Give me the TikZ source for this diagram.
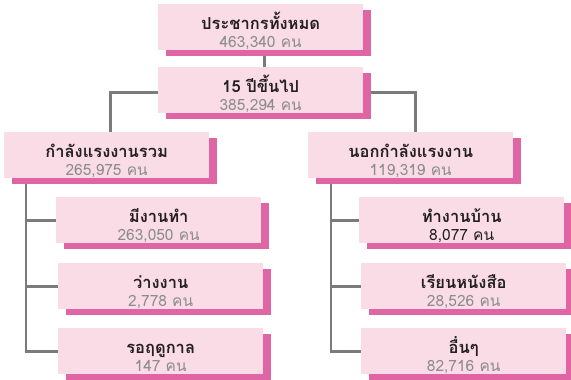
\documentclass[tikz,border=0pt]{standalone}
\usepackage{fontspec}
\newfontfamily\thaifont[Script=Thai]{Loma}
\usetikzlibrary{shadows,backgrounds}
\definecolor{boxpink}{HTML}{FADCE6}
\definecolor{shpink}{HTML}{E065A5}
\definecolor{numgray}{HTML}{8C8C8C}
\definecolor{titlecol}{HTML}{231F20}
\definecolor{linegray}{HTML}{7B7B7B}
\newcommand{\bx}[3][numgray]{\rule{0pt}{25pt}\smash{\fontsize{16.5}{18}\selectfont\bfseries\color{titlecol}#2}\\
  \smash{\fontsize{15.5}{18}\selectfont\color{#1}#3}\rule[-3pt]{0pt}{3pt}}
\tikzset{
  box/.style={anchor=north west, fill=boxpink, minimum width=205pt, minimum height=46pt,
    inner sep=0pt, align=center, font=\thaifont\fontsize{16}{18}\selectfont,
    general shadow={shadow xshift=8pt, shadow yshift=-6pt, fill=shpink}},
  conn/.style={draw=linegray, line width=2.6pt}
}
\begin{document}
\begin{tikzpicture}[x=1pt,y=-1pt]
\useasboundingbox (0,0) rectangle (571,380);
\node[box] (top) at (158,4) {\bx{ประชากรทั้งหมด}{463,340 คน}};
\node[box] (b2) at (158,67) {\bx{15 ปีขึ้นไป}{385,294 คน}};
\node[box] (L) at (4,132) {\bx{กำลังแรงงานรวม}{265,975 คน}};
\node[box] (R) at (308,132) {\bx{นอกกำลังแรงงาน}{119,319 คน}};
\node[box] (L1) at (56,197) {\bx{มีงานทำ}{263,050 คน}};
\node[box] (L2) at (58,263) {\bx{ว่างงาน}{2,778 คน}};
\node[box] (L3) at (58,328) {\bx{รอฤดูกาล}{147 คน}};
\node[box] (R1) at (359,197) {\bx[titlecol]{ทำงานบ้าน}{8,077 คน}};
\node[box] (R2) at (361,263) {\bx{เรียนหนังสือ}{28,526 คน}};
\node[box] (R3) at (361,328) {\bx{อื่นๆ}{82,716 คน}};
\begin{pgfonlayer}{background}
\draw[conn] ([xshift=4pt]top.south) -- ([xshift=4pt]b2.north);
\draw[conn] ([yshift=-2pt]b2.west) -| ([xshift=4pt]L.north);
\draw[conn] ([yshift=-2pt]b2.east) -| ([xshift=4.5pt]R.north);
\draw[conn] ([xshift=22pt]L.south west) |- (L1.west);
\draw[conn] ([xshift=22pt]L.south west) |- (L2.west);
\draw[conn] ([xshift=22pt]L.south west) |- (L3.west);
\draw[conn] ([xshift=23pt]R.south west) |- (R1.west);
\draw[conn] ([xshift=23pt]R.south west) |- (R2.west);
\draw[conn] ([xshift=23pt]R.south west) |- (R3.west);
\end{pgfonlayer}
\end{tikzpicture}
\end{document}
